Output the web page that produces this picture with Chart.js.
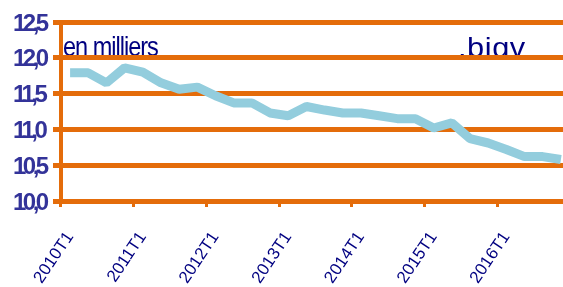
<!DOCTYPE html>
<html>
<head>
<meta charset="utf-8">
<script src="https://cdn.jsdelivr.net/npm/chart.js@4"></script>
<style>
html, body { margin: 0; padding: 0; overflow: hidden; background: #ffffff; width: 563px; height: 287px; }
#wrap { width: 572px; height: 287px; }
canvas { display: block; }
</style>
</head>
<body>
<div id="wrap"><canvas id="c" width="572" height="287"></canvas></div>
<script>
// Categories (quarters)
const categories = [
  '2010T1','2010T2','2010T3','2010T4',
  '2011T1','2011T2','2011T3','2011T4',
  '2012T1','2012T2','2012T3','2012T4',
  '2013T1','2013T2','2013T3','2013T4',
  '2014T1','2014T2','2014T3','2014T4',
  '2015T1','2015T2','2015T3','2015T4',
  '2016T1','2016T2','2016T3','2016T4'
];
// Series values (en milliers)
const values = [
  11.79, 11.79, 11.65, 11.86,
  11.80, 11.65, 11.56, 11.59,
  11.47, 11.37, 11.37, 11.23,
  11.19, 11.32, 11.27, 11.23,
  11.23, 11.19, 11.15, 11.15,
  11.02, 11.09, 10.87, 10.81,
  10.72, 10.62, 10.62, 10.58
];
// Tick labels shown on the x axis
const xTickLabels = ['2010T1','2011T1','2012T1','2013T1','2014T1','2015T1','2016T1'];
// Texts
const unitText = 'en milliers';
const cornerText = '.bigv';

const ORANGE = '#E46C0A';
const LINE = '#93CDDD';
const NAVY = '#000080';
const YLAB = '#333399';

const textPlugin = {
  id: 'texts',
  beforeDraw(chart) {
    const ys = chart.scales.y;
    if (!ys._patched) {
      const orig = ys.drawLabels.bind(ys);
      ys.drawLabels = function (area) {
        const c = this.ctx;
        c.save();
        c.translate(0, 2);
        c.letterSpacing = '-3.5px';
        orig(area);
        c.restore();
      };
      ys._patched = true;
    }
    const c = chart.ctx;
    c.save();
    c.fillStyle = NAVY;
    c.font = 'normal 28px "Liberation Sans", Arial, sans-serif';
    c.textBaseline = 'alphabetic';
    c.textAlign = 'left';
    c.letterSpacing = '-1.2px';
    c.save();
    c.translate(63, 56);
    c.scale(0.84, 1);
    c.fillText(unitText, 0, 0);
    c.restore();
    c.beginPath();
    c.rect(440, 0, 140, 56);
    c.clip();
    c.letterSpacing = '0.5px';
    c.translate(458, 56.5);
    c.scale(1.1, 1);
    c.fillText(cornerText, 0, 0);
    c.restore();
  }
};

new Chart(document.getElementById('c'), {
  type: 'line',
  data: {
    labels: categories,
    datasets: [{
      data: values,
      borderColor: LINE,
      borderWidth: 9,
      pointRadius: 0,
      tension: 0,
      fill: false,
      borderJoinStyle: 'bevel'
    }]
  },
  options: {
    responsive: false,
    animation: false,
    devicePixelRatio: 1,
    layout: { padding: { top: 22, left: 13, right: 2, bottom: 0 } },
    plugins: { legend: { display: false }, tooltip: { enabled: false } },
    scales: {
      x: {
        offset: true,
        grid: {
          offset: true,
          drawOnChartArea: false,
          drawTicks: true,
          tickLength: 6,
          tickWidth: 3,
          tickColor: (ctx) => (ctx.index % 4 === 0 ? ORANGE : 'rgba(0,0,0,0)')
        },
        border: { display: false },
        ticks: {
          autoSkip: false,
          maxRotation: 56,
          minRotation: 56,
          color: NAVY,
          padding: 21,
          font: { family: '"Liberation Sans", Arial, sans-serif', size: 17 },
          callback: function (v, i) {
            const l = categories[i];
            return xTickLabels.includes(l) ? l : '';
          }
        },
        afterFit: (s) => { s.height = 86; s.paddingLeft = 0; s.paddingRight = 0; }
      },
      y: {
        min: 10,
        max: 12.5,
        grid: {
          color: ORANGE,
          lineWidth: 5,
          tickLength: 8,
          drawTicks: true
        },
        border: { display: true, color: ORANGE, width: 4 },
        ticks: {
          stepSize: 0.5,
          color: YLAB,
          crossAlign: 'far',
          font: { family: '"Liberation Sans", Arial, sans-serif', size: 24, weight: 'bold' },
          callback: (v) => v.toFixed(1).replace('.', ',')
        },
        afterFit: (s) => { s.width = 48; s.paddingTop = 0; s.paddingBottom = 0; }
      }
    }
  },
  plugins: [textPlugin]
});
</script>
</body>
</html>
